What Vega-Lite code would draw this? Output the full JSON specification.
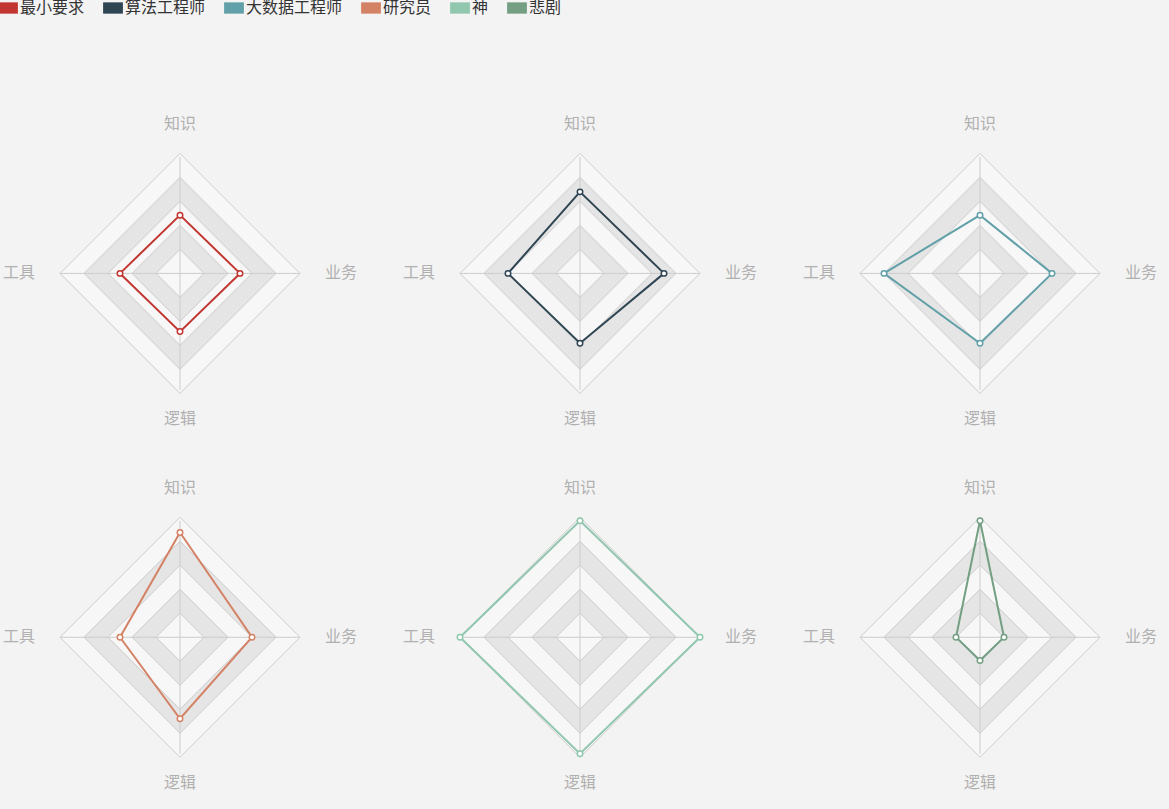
{
"$schema":"https://vega.github.io/schema/vega-lite/v6.json",
"width":1169,"height":809,
"autosize":{"type":"fit","contains":"padding"},
"padding":0,
"background":"#f4f3f3",
"config":{"view":{"stroke":null},"font":"Noto Sans CJK SC"},
"datasets":{
"series":[
{"p":0,"name":"最小要求","知识":0.5,"业务":0.5,"逻辑":0.5,"工具":0.5},
{"p":1,"name":"算法工程师","知识":0.7,"业务":0.7,"逻辑":0.6,"工具":0.6},
{"p":2,"name":"大数据工程师","知识":0.5,"业务":0.6,"逻辑":0.6,"工具":0.8},
{"p":3,"name":"研究员","知识":0.9,"业务":0.6,"逻辑":0.7,"工具":0.5},
{"p":4,"name":"神","知识":1.0,"业务":1.0,"逻辑":1.0,"工具":1.0},
{"p":5,"name":"悲剧","知识":1.0,"业务":0.2,"逻辑":0.2,"工具":0.2}
],
"rings":[
{"p":0,"r":1},{"p":0,"r":0.8},{"p":0,"r":0.6},{"p":0,"r":0.4},{"p":0,"r":0.2},
{"p":1,"r":1},{"p":1,"r":0.8},{"p":1,"r":0.6},{"p":1,"r":0.4},{"p":1,"r":0.2},
{"p":2,"r":1},{"p":2,"r":0.8},{"p":2,"r":0.6},{"p":2,"r":0.4},{"p":2,"r":0.2},
{"p":3,"r":1},{"p":3,"r":0.8},{"p":3,"r":0.6},{"p":3,"r":0.4},{"p":3,"r":0.2},
{"p":4,"r":1},{"p":4,"r":0.8},{"p":4,"r":0.6},{"p":4,"r":0.4},{"p":4,"r":0.2},
{"p":5,"r":1},{"p":5,"r":0.8},{"p":5,"r":0.6},{"p":5,"r":0.4},{"p":5,"r":0.2}
],
"panels":[{"p":0},{"p":1},{"p":2},{"p":3},{"p":4},{"p":5}]
},
"layer":[
{"data":{"name":"rings"},
"transform":[{"calculate":"180+400*(datum.p%3)","as":"cx"},{"calculate":"257+375*floor(datum.p/3)","as":"cy"},{"calculate":"pow(240*datum.r,2)","as":"sz"},{"calculate":"round(datum.r*5)%2==1?'a':'b'","as":"band"}],
"mark":{"type":"point","shape":"diamond","filled":true,"stroke":"#cccccc","strokeWidth":1,"opacity":1},
"encoding":{
"x":{"field":"cx","type":"quantitative","scale":{"domain":[0,1169],"nice":false,"zero":false},"axis":null},
"y":{"field":"cy","type":"quantitative","scale":{"domain":[809,0],"nice":false,"zero":false},"axis":null},
"size":{"field":"sz","type":"quantitative","scale":null},
"fill":{"condition":{"test":"datum.band=='a'","value":"#f7f7f7"},"value":"#e6e5e5"},
"order":{"field":"r","sort":"descending"}
}},
{"data":{"name":"panels"},
"transform":[{"calculate":"180+400*(datum.p%3)","as":"cx"},{"calculate":"257+375*floor(datum.p/3)","as":"cy"},{"calculate":"datum.cx-120","as":"x1"},{"calculate":"datum.cx+120","as":"x2"}],
"mark":{"type":"rule","color":"#cccccc","strokeWidth":1},
"encoding":{"x":{"field":"x1","type":"quantitative"},"x2":{"field":"x2"},"y":{"field":"cy","type":"quantitative"}}},
{"data":{"name":"panels"},
"transform":[{"calculate":"180+400*(datum.p%3)","as":"cx"},{"calculate":"257+375*floor(datum.p/3)","as":"cy"},{"calculate":"datum.cy-120","as":"y1"},{"calculate":"datum.cy+120","as":"y2"}],
"mark":{"type":"rule","color":"#cccccc","strokeWidth":1},
"encoding":{"y":{"field":"y1","type":"quantitative"},"y2":{"field":"y2"},"x":{"field":"cx","type":"quantitative"}}},
{"data":{"name":"series"},
"transform":[{"calculate":"180+400*(datum.p%3)","as":"cx"},{"calculate":"257+375*floor(datum.p/3)","as":"cy"},
{"calculate":"datum['逻辑']","as":"lg"},
{"fold":["工具","知识","业务"],"as":["k","v"]},
{"calculate":"datum.k=='工具'?datum.cx-120*datum.v:(datum.k=='业务'?datum.cx+120*datum.v:datum.cx)","as":"px"},
{"calculate":"datum.k=='知识'?datum.cy-120*datum.v:datum.cy","as":"py"},
{"calculate":"datum.k=='知识'?datum.cy+120*datum.lg:datum.cy","as":"py2"}],
"mark":{"type":"area","fillOpacity":0.7,"orient":"vertical"},
"encoding":{
"x":{"field":"px","type":"quantitative"},
"y":{"field":"py","type":"quantitative"},
"y2":{"field":"py2"},
"order":{"field":"px"},
"detail":{"field":"name"},
"fill":{"field":"name","type":"nominal","sort":null,"scale":{"domain":["最小要求","算法工程师","大数据工程师","研究员","神","悲剧"],"range":["#c23531","#2f4554","#61a0a8","#d48265","#91c7ae","#749f83"]},
"legend":{"orient":"top","direction":"horizontal","title":null,"labelFontSize":16,"labelColor":"#333333","symbolType":"M-1.4,-0.8H1.4V0.8H-1.4Z","symbolSize":200,"symbolOpacity":1,"symbolStrokeWidth":0,"columnPadding":18,"offset":8}}
}},
{"data":{"name":"series"},
"transform":[{"calculate":"180+400*(datum.p%3)","as":"cx"},{"calculate":"257+375*floor(datum.p/3)","as":"cy"},
{"calculate":"datum['知识']","as":"知识2"},
{"fold":["知识","业务","逻辑","工具","知识2"],"as":["k","v"]},
{"calculate":"indexof(['知识','业务','逻辑','工具','知识2'],datum.k)","as":"ord"},
{"calculate":"datum.k=='工具'?datum.cx-120*datum.v:(datum.k=='业务'?datum.cx+120*datum.v:datum.cx)","as":"px"},
{"calculate":"(datum.k=='知识'||datum.k=='知识2')?datum.cy-120*datum.v:(datum.k=='逻辑'?datum.cy+120*datum.v:datum.cy)","as":"py"}],
"mark":{"type":"line","strokeWidth":2},
"encoding":{
"x":{"field":"px","type":"quantitative"},
"y":{"field":"py","type":"quantitative"},
"order":{"field":"ord"},
"detail":{"field":"name"},
"stroke":{"field":"name","type":"nominal","sort":null,"scale":{"domain":["最小要求","算法工程师","大数据工程师","研究员","神","悲剧"],"range":["#c23531","#2f4554","#61a0a8","#d48265","#91c7ae","#749f83"]},"legend":null}
}},
{"data":{"name":"series"},
"transform":[{"calculate":"180+400*(datum.p%3)","as":"cx"},{"calculate":"257+375*floor(datum.p/3)","as":"cy"},
{"fold":["工具","知识","业务","逻辑"],"as":["k","v"]},
{"calculate":"datum.k=='工具'?datum.cx-120*datum.v:(datum.k=='业务'?datum.cx+120*datum.v:datum.cx)","as":"px"},
{"calculate":"datum.k=='知识'?datum.cy-120*datum.v:(datum.k=='逻辑'?datum.cy+120*datum.v:datum.cy)","as":"py"}],
"mark":{"type":"point","filled":true,"fill":"#ffffff","size":30,"strokeWidth":1.5,"opacity":1},
"encoding":{
"x":{"field":"px","type":"quantitative"},
"y":{"field":"py","type":"quantitative"},
"stroke":{"field":"name","type":"nominal","sort":null,"scale":{"domain":["最小要求","算法工程师","大数据工程师","研究员","神","悲剧"],"range":["#c23531","#2f4554","#61a0a8","#d48265","#91c7ae","#749f83"]},"legend":null}
}},
{"data":{"name":"panels"},
"transform":[{"calculate":"180+400*(datum.p%3)","as":"cx"},{"calculate":"257+375*floor(datum.p/3)","as":"cy"},
{"calculate":"['知识','业务','逻辑','工具']","as":"labs"},{"flatten":["labs"]},
{"calculate":"datum.labs=='业务'?datum.cx+161:(datum.labs=='工具'?datum.cx-161:datum.cx)","as":"lx"},
{"calculate":"datum.labs=='知识'?datum.cy-154:(datum.labs=='逻辑'?datum.cy+150:datum.cy)","as":"ly"}],
"mark":{"type":"text","fontSize":16,"color":"#b0b0b0","baseline":"middle","align":"center"},
"encoding":{"x":{"field":"lx","type":"quantitative"},"y":{"field":"ly","type":"quantitative"},"text":{"field":"labs"}}}
]
}
